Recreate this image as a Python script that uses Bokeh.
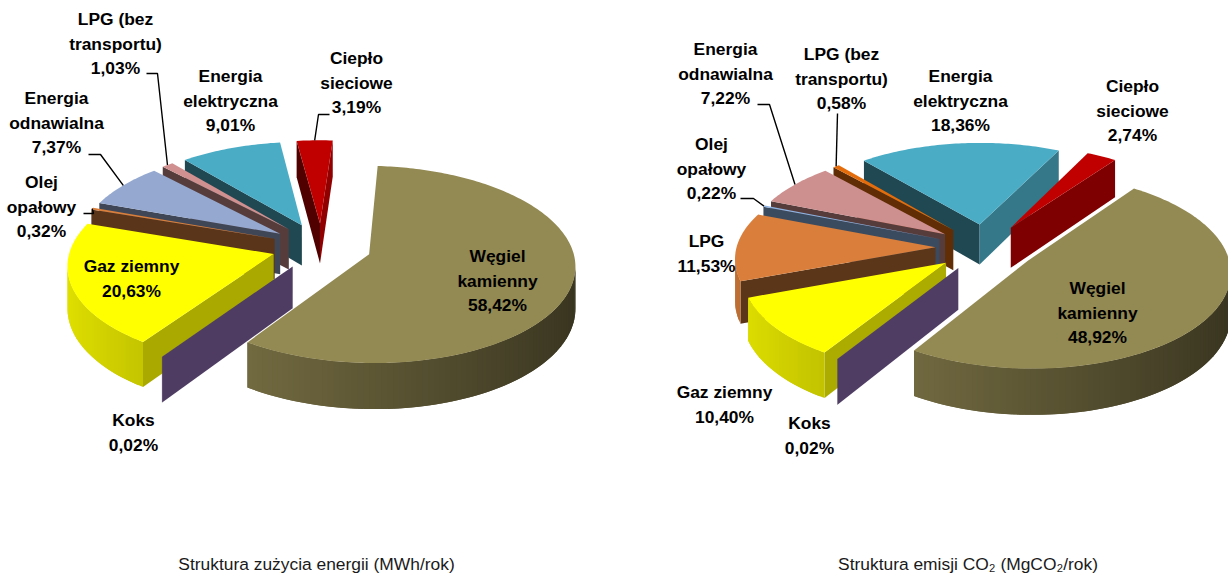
import math
from bokeh.embed import file_html
from bokeh.resources import INLINE
from bokeh.plotting import figure
from bokeh.models import Range1d, ColumnDataSource
from bokeh.core.properties import value

# ---- data ----
left_names = ["Węgiel kamienny", "Koks", "Gaz ziemny", "Olej opałowy", "Energia odnawialna",
              "LPG (bez transportu)", "Energia elektryczna", "Ciepło sieciowe"]
left_values = [58.42, 0.02, 20.63, 0.32, 7.37, 1.03, 9.01, 3.19]

right_names = ["Węgiel kamienny", "Koks", "Gaz ziemny", "LPG", "Olej opałowy", "Energia odnawialna",
               "LPG (bez transportu)", "Energia elektryczna", "Ciepło sieciowe"]
right_values = [48.92, 0.02, 10.40, 11.53, 0.22, 7.22, 0.58, 18.36, 2.74]

left_caption = "Struktura zużycia energii (MWh/rok)"
right_caption = "Struktura emisji CO₂ (MgCO₂/rok)"

# ---- styling and layout ----
left_colors = ["#938953", "#765b94", "#ffff00", "#d97f3b", "#95a9d0", "#d09090", "#4bacc6", "#c00000"]
right_colors = ["#938953", "#765b94", "#ffff00", "#d97f3b", "#8db3e2", "#ce8f8f", "#e46c0a", "#4bacc6", "#c00000"]

# label lines + centre (page px) of the block
left_labels = {
    "Węgiel kamienny": (["Węgiel", "kamienny"], 497, 280),
    "Koks": (["Koks"], 133, 432),
    "Gaz ziemny": (["Gaz ziemny"], 131, 278),
    "Olej opałowy": (["Olej", "opałowy"], 41, 206),
    "Energia odnawialna": (["Energia", "odnawialna"], 56, 122),
    "LPG (bez transportu)": (["LPG (bez", "transportu)"], 115, 43),
    "Energia elektryczna": (["Energia", "elektryczna"], 230, 100),
    "Ciepło sieciowe": (["Ciepło", "sieciowe"], 356, 82),
}
right_labels = {
    "Węgiel kamienny": (["Węgiel", "kamienny"], 1097, 312),
    "Koks": (["Koks"], 809, 435),
    "Gaz ziemny": (["Gaz ziemny"], 724, 404),
    "LPG": (["LPG"], 706, 253),
    "Olej opałowy": (["Olej", "opałowy"], 711, 168),
    "Energia odnawialna": (["Energia", "odnawialna"], 725, 73),
    "LPG (bez transportu)": (["LPG (bez", "transportu)"], 841, 78),
    "Energia elektryczna": (["Energia", "elektryczna"], 960, 100),
    "Ciepło sieciowe": (["Ciepło", "sieciowe"], 1132, 110),
}
# leader line: label-side points; the pie-side end comes from the slice itself
left_leaders = {
    "LPG (bez transportu)": [(146, 73), (157, 73)],
    "Energia odnawialna": [(88, 154), (100, 154)],
    "Olej opałowy": [(83, 213), (93, 213)],
    "Ciepło sieciowe": [(329, 114), (318, 114)],
}
right_leaders = {
    "Energia odnawialna": [(757, 104), (769, 104)],
    "LPG (bez transportu)": [(837, 113)],
    "Olej opałowy": [(740, 198), (753, 198)],
}

EXPLODE, DEPTH, TILT, PERSP = 50.0, 41.0, 0.473, 0.0005
PITCH = 24.5
FONT = "Liberation Sans"


def shade(color, factor):
    r, g, b = (int(color[i:i + 2], 16) for i in (1, 3, 5))
    return "#%02x%02x%02x" % tuple(min(255, int(round(c * factor))) for c in (r, g, b))


def cut_factor(nu):
    return 0.42 + max(0.0, nu - 0.34) * 0.5


def rim_factor(nu):
    return 0.63 - 0.25 * nu


def area(pts):
    return sum(pts[i][0] * pts[(i + 1) % len(pts)][1] - pts[(i + 1) % len(pts)][0] * pts[i][1]
               for i in range(len(pts)))


def build_pie(values, colors, cx, cy, radius, start_deg):
    """Return faces in paint order plus each slice's outer-rim midpoint."""
    total = sum(values)
    slices, a = [], start_deg
    for v, col in zip(values, colors):
        span = v / total * 360.0
        slices.append((a, a + span, col))
        a += span

    anchors, faces = [], []

    def proj(u, v, drop=0.0):
        f = 1.0 / (1.0 + PERSP * v)
        return (cx + u * f, cy - TILT * v * f + drop * f)

    order = []
    for idx, (a0, a1, col) in enumerate(slices):
        mid = math.radians((a0 + a1) / 2)
        ou, ov = EXPLODE * math.sin(mid), EXPLODE * math.cos(mid)

        def rim(t):
            r = math.radians(t)
            return ou + radius * math.sin(r), ov + radius * math.cos(r)

        anchors.append(proj(*rim((a0 + a1) / 2)))
        order.append((math.cos(mid), idx))
        fs = []

        def wall(p, q, color, test=None):
            quad = [proj(*p), proj(*q), proj(*q, DEPTH), proj(*p, DEPTH)]
            probe = quad if test is None else test
            if area(probe) < 0:
                fs.append((quad, color))

        r0, r1 = math.radians(a0), math.radians(a1)
        wall((ou, ov), rim(a0), shade(col, cut_factor(-math.cos(r0))))
        wall(rim(a1), (ou, ov), shade(col, cut_factor(math.cos(r1))))
        steps = max(1, int((a1 - a0) / 1.5))
        for s in range(steps):
            t0 = a0 + (a1 - a0) * s / steps
            t1 = a0 + (a1 - a0) * (s + 1) / steps
            t2 = a0 + (a1 - a0) * min(s + 2, steps) / steps      # overlap hides seams
            c = shade(col, rim_factor(math.sin(math.radians((t0 + t1) / 2))))
            base = [proj(*rim(t0)), proj(*rim(t1)), proj(*rim(t1), DEPTH), proj(*rim(t0), DEPTH)]
            wall(rim(t0), rim(t2), c, test=base)

        n = max(1, int(a1 - a0))
        top = [proj(ou, ov)] + [proj(*rim(a0 + (a1 - a0) * s / n)) for s in range(n + 1)]
        fs.append((top, col))
        faces.append(fs)

    painted = []
    for _, idx in sorted(order, key=lambda o: -o[0]):
        painted.extend(faces[idx])
    return painted, anchors


p = figure(width=1228, height=581, output_backend="svg", toolbar_location=None,
           x_range=Range1d(0, 1228), y_range=Range1d(581, 0),
           min_border=0, outline_line_color=None)
p.axis.visible = False
p.grid.visible = False

charts = [
    (left_names, left_values, left_colors, left_labels, left_leaders, 321, 246, 203.0, 4.0),
    (right_names, right_values, right_colors, right_labels, right_leaders, 985, 247, 199.0, 36.0),
]

for names, vals, cols, labels, leaders, cx, cy, radius, start in charts:
    faces, anchors = build_pie(vals, cols, cx, cy, radius, start)
    src = ColumnDataSource(dict(
        xs=[[pt[0] for pt in f[0]] for f in faces],
        ys=[[pt[1] for pt in f[0]] for f in faces],
        fill=[f[1] for f in faces],
    ))
    p.patches("xs", "ys", source=src, fill_color="fill", line_color=None)

    for name, pts in leaders.items():
        ax, ay = anchors[names.index(name)]
        p.line([q[0] for q in pts] + [ax], [q[1] for q in pts] + [ay],
               line_color="black", line_width=1.4)

    tx, ty, tt = [], [], []
    for name, v in zip(names, vals):
        lines, lx, ly = labels[name]
        lines = lines + [f"{v:.2f}".replace(".", ",") + "%"]
        y0 = ly - PITCH * (len(lines) - 1) / 2
        for i, line in enumerate(lines):
            tx.append(lx)
            ty.append(y0 + i * PITCH)
            tt.append(line)
    p.text(tx, ty, text=tt, text_font=value(FONT), text_font_style="bold", text_font_size="17.4px",
           text_align="center", text_baseline="middle", text_color="black")

p.text([316, 967.5], [563, 563], text=[left_caption, right_caption], text_font=value(FONT),
       text_font_size="17.4px", text_align="center", text_baseline="middle", text_color="#1a1a1a")

open("out.html", "w").write(file_html(p, INLINE))
